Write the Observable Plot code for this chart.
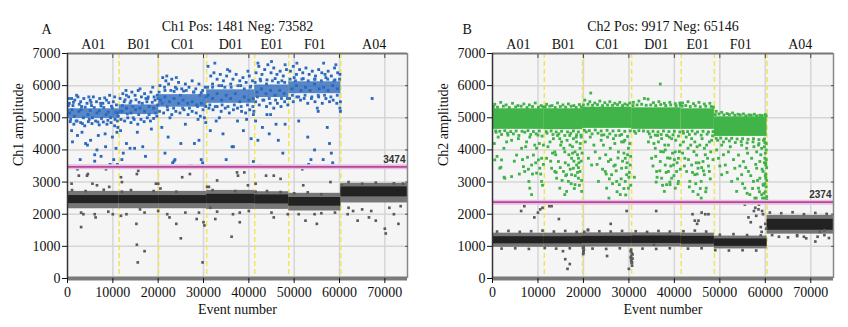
<!DOCTYPE html>
<html><head><meta charset="utf-8">
<script src="https://cdn.jsdelivr.net/npm/d3@7"></script>
<script src="https://cdn.jsdelivr.net/npm/@observablehq/plot@0.6"></script>
<style>
body{margin:0;background:#fff;}
#wrap{display:flex;width:848px;height:327px;}
</style></head><body><div id="wrap"></div>
<script>
// ---- shared
const wells = ["A01","B01","C01","D01","E01","F01","A04"];
const xTicks = [0,10000,20000,30000,40000,50000,60000,70000];
const yTicks = [0,1000,2000,3000,4000,5000,6000,7000];

// ---- Panel A (Ch1) ; point lists are [event number in thousands, amplitude]
const titleA = "Ch1 Pos: 1481 Neg: 73582";
const thresholdA = 3474;
const boundsA = [0,11400,20100,30700,41300,48800,60300,75000];
const negCoreLoA = [2330,2330,2330,2330,2320,2250,2540];
const negCoreHiA = [2580,2580,2580,2620,2600,2520,2850];
const negFringeLoA = [2170,2170,2170,2150,2150,2100,2350];
const negFringeHiA = [2710,2710,2710,2740,2700,2650,2960];
const posCoreLoA = [4980,5100,5330,5450,5630,5750,null];
const posCoreHiA = [5280,5400,5720,5870,6020,6120,null];
const posPointsA = [
 [0.4,5450],[0.9,5600],[1.6,5550],[2.3,5650],[2.9,5500],[3.6,5600],[4.3,5450],[5.0,5550],[5.7,5650],[6.4,5500],[7.1,5600],[7.8,5450],[8.6,5550],[9.3,5700],[10.1,5500],[10.8,5400],[1.2,5380],[3.1,5350],[5.3,5380],[7.4,5370],[9.7,5360],
 [0.6,4880],[1.4,4800],[2.1,4900],[2.9,4850],[3.8,4750],[4.6,4880],[5.4,4820],[6.2,4900],[7.0,4780],[7.9,4870],[8.7,4800],[9.6,4850],[10.4,4750],[11.1,4700],
 [0.9,4600],[2.2,4450],[3.2,4550],[4.4,4150],[5.1,4300],[6.8,4450],[8.3,4500],[9.9,4400],[10.9,4550],[1.1,4250],[4.0,4200],[6.0,3850],[7.4,3800],[8.4,4100],[9.4,3550],[10.2,3700],[11.0,3550],[10.7,4050],[2.8,3700],[6.5,4000],
 [0.5,5150],[1.5,5050],[2.5,5200],[3.5,5000],[4.5,5100],[5.5,5000],[6.5,5150],[7.5,4980],[8.5,5100],[9.5,5000],[10.5,4950],[11.2,5050],[1,5250],[3,5250],[5,5230],[7,5220],[9,5180],[11,5150],
 [11.6,5600],[12.2,5750],[12.9,5850],[13.5,5650],[14.2,5800],[14.9,5700],[15.6,5850],[16.3,5650],[17.0,5750],[17.7,5600],[18.4,5800],[19.1,5650],[19.8,5700],[12.5,5500],[14.0,5520],[15.8,5480],[17.5,5500],[19.3,5550],
 [11.8,4950],[12.6,4900],[13.3,5000],[14.0,4850],[14.7,4950],[15.5,4800],[16.2,4950],[16.9,4880],[17.6,5000],[18.3,4900],[19.0,4980],[19.7,5050],
 [11.7,4600],[12.3,3900],[13.0,4200],[14.8,4050],[15.4,4550],[16.6,4100],[17.2,3800],[18.5,4650],[12.0,3700],[13.8,4050],
 [12,5200],[13,5300],[14,5150],[15,5250],[16,5300],[17,5200],[18,5350],[19,5300],[19.9,5400],
 [20.4,6000],[21.0,6250],[21.7,6150],[22.3,6050],[23.0,6200],[23.8,5950],[24.5,6100],[25.2,5900],[26.0,6050],[26.8,5950],[27.5,6150],[28.3,5900],[29.0,6050],[29.8,5850],[30.4,5950],[21.5,5850],[23.5,5820],[25.6,5830],[27.8,5800],[29.5,5780],
 [20.3,5200],[21.2,5150],[22.1,5250],[23.0,5100],[23.9,5200],[24.8,5150],[25.7,5250],[26.6,5100],[27.5,5200],[28.4,5150],[29.3,5050],[30.2,5000],
 [20.8,4700],[22.2,4400],[23.2,3600],[23.7,3700],[25.0,4200],[26.0,4800],[27.3,3500],[28.0,4200],[29.0,4300],[29.5,3700],[30.5,4850],[21.5,3900],
 [20.5,5550],[21.5,5650],[22.5,5500],[23.5,5600],[24.5,5450],[25.5,5550],[26.5,5450],[27.5,5500],[28.5,5400],[29.5,5450],[30.5,5350],
 [31.0,6600],[31.6,6300],[32.3,6400],[33.0,6200],[33.7,6350],[34.4,6150],[35.1,6300],[35.8,6450],[36.5,6200],[37.2,6350],[38.0,6150],[38.7,6250],[39.4,6100],[40.1,6300],[40.8,6150],[32.0,6050],[34.0,6000],[36.0,6050],[38.2,6000],[40.4,5980],
 [31.2,5300],[32.1,5250],[33.0,5350],[33.9,5200],[34.8,5300],[35.7,5150],[36.6,5250],[37.5,5300],[38.4,5200],[39.3,5150],[40.2,5250],[41.0,5100],
 [31.5,4600],[32.8,4900],[34.3,4500],[35.0,3700],[36.3,4100],[36.6,4100],[37.5,4900],[38.8,4600],[40.5,4350],[33.5,5000],[39.5,4950],
 [31,5700],[32,5600],[33,5750],[34,5550],[35,5700],[36,5600],[37,5750],[38,5500],[39,5650],[40,5550],[41,5600],
 [41.6,6400],[42.2,6600],[42.9,6350],[43.5,6500],[44.2,6650],[44.9,6400],[45.5,6550],[46.2,6350],[46.9,6450],[47.6,6300],[48.3,6500],[42.5,6200],[44.0,6180],[45.8,6220],[47.3,6150],
 [41.5,5500],[42.3,5400],[43.1,5550],[43.9,5350],[44.7,5450],[45.5,5300],[46.3,5450],[47.1,5350],[47.9,5500],[48.6,5400],
 [41.5,4900],[42.0,4300],[42.5,3500],[43.0,4700],[44.0,5100],[44.5,4500],[46.0,4800],[46.5,4300],[47.5,3900],[48.0,4800],[41.0,3640],
 [41.8,5800],[42.8,5900],[43.8,5750],[44.8,5850],[45.8,5700],[46.8,5850],[47.8,5750],
 [49.2,6450],[49.8,6600],[50.5,6350],[51.2,6500],[51.9,6400],[52.6,6550],[53.3,6350],[54.0,6450],[54.7,6300],[55.4,6500],[56.1,6400],[56.8,6350],[57.5,6450],[58.2,6300],[58.9,6550],[59.6,6400],[60.1,6350],[50,6250],[52,6220],[54.5,6200],[57,6250],[59,6180],
 [49.0,5600],[49.8,5500],[50.6,5650],[51.4,5550],[52.2,5600],[53.0,5450],[53.8,5600],[54.6,5500],[55.4,5650],[56.2,5450],[57.0,5600],[57.8,5500],[58.6,5550],[59.4,5450],[60.2,5500],
 [51.0,4900],[53.0,4400],[54.5,4000],[55.3,5200],[56.4,3700],[57.3,4700],[57.8,4200],[58.2,3900],[58.5,3600],[53.7,3700],[60.2,5200],
 [49.5,5900],[50.5,6000],[51.5,5850],[52.5,5950],[53.5,5850],[54.5,6050],[55.5,5900],[56.5,5950],[57.5,5850],[58.5,6000],[59.5,5900],
 [6,3650],[23.5,3650],[27,3500],[29.8,3600],[52.5,3480],[53.2,3550],[58.1,3450],[67.2,5600]
];
const posPointsA2 = [
 [0.2,5380],[0.7,4950],[1.3,5480],[1.9,4900],[2.6,5420],[3.3,4820],[3.9,5330],[4.8,4950],[5.2,5480],[5.9,5320],[6.7,4870],[7.3,5450],[8.0,5320],[8.9,4920],[9.1,5470],[9.9,5300],[10.6,5180],[11.0,4900],[0.3,5600],[2.0,5700],[4.7,5650],[8.2,5620],[10.4,5650],
 [11.5,5200],[12.1,5380],[12.7,5560],[13.2,5120],[13.8,5460],[14.4,5350],[15.1,5560],[15.7,5100],[16.5,5450],[17.3,5600],[18.0,5100],[18.7,5480],[19.4,5150],[19.9,5600],[13.0,5700],[16.0,5900],[18.8,5950],[14.5,5000],[17.8,5650],
 [20.2,5800],[20.9,5450],[21.4,5950],[22.0,5350],[22.8,5850],[23.4,5300],[24.1,5900],[24.9,5700],[25.4,5300],[26.2,5850],[26.9,5300],[27.9,5800],[28.7,5350],[29.2,5700],[29.9,5250],[30.6,5650],[21.9,6300],[24.0,6250],[22.6,5000],[28.8,4950],
 [30.9,5950],[31.4,5400],[32.0,5950],[32.6,5350],[33.4,6000],[34.1,5400],[34.7,5950],[35.4,5350],[36.1,5950],[36.8,5400],[37.6,6000],[38.3,5350],[39.0,5900],[39.7,5400],[40.3,5950],[40.9,5350],[32.5,6700],[35.3,6500],[39.8,6450],[41.1,5200],
 [41.4,6100],[41.9,5650],[42.6,6150],[43.3,5550],[43.9,6050],[44.5,5600],[45.2,6150],[45.9,5550],[46.5,6100],[47.2,5600],[47.9,6100],[48.5,5600],[42.0,6700],[45.0,6750],[48.0,6650],[44.8,5100],
 [49.1,6200],[49.6,5700],[50.3,6150],[51.0,5650],[51.7,6200],[52.4,5700],[53.1,6150],[53.9,5650],[54.6,6200],[55.3,5700],[56.0,6150],[56.7,5700],[57.4,6200],[58.1,5650],[58.8,6150],[59.5,5700],[60.0,6200],[50.6,6700],[56.5,6700],[59.2,6650],[60.1,5300],[55.1,5300]
];
const negPointsA = [
 [0.9,2950],[2.5,3200],[2.2,3400],[4.5,3250],[4.3,3200],[5.5,2950],[6.5,2900],[3.5,2000],[3,1600],[6.2,1900],[8.5,3400],[9.2,2850],[10,2000],
 [11.8,3150],[12,3000],[15.3,3250],[15.6,3350],[15.2,1700],[15.3,1050],[15.5,500],[17,850],[16,2150],[19.5,2950],[20,2950],[22.5,1900],[24,1700],
 [25,1250],[25.3,3150],[27,3250],[28.5,1850],[29.8,500],[30,1750],[30.2,1650],[31.5,2200],[32.6,1850],[33,3050],[31.2,2850],[36.5,2000],[36.2,1300],
 [37.4,3300],[37.6,3200],[38,1750],[39,3300],[39.8,2900],[41.5,2950],[43.8,3200],[45.5,3200],[45.5,1900],[47,3100],[51.8,3400],[52,2900],[52.5,1800],
 [54.5,2000],[55,1700],[57.4,3450],[58,3000],[61.8,2000],[64,1800],[66.5,1900],[68,1800],[70,1550],[70.2,1400],[73,1700],[72,2000],[63,2100],
 [1,2750],[4,2720],[8,2760],[12,2700],[14,2750],[19,2720],[20.5,2800],[24,2700],[30.8,2850],[32,2750],[37,2720],[41.5,2700],[44,2720],[47,2690],
 [50,2650],[53,2680],[56,2620],[60.5,2900],[62,3000],[65,2950],[68,2980],[72,2960],[74,2950],
 [3,2050],[6,2000],[9,2080],[11.8,1950],[13,2000],[17,2050],[20,2100],[22,2000],[26,2050],[29,2050],[33,2080],[38,2050],[40,2100],[45,2050],
 [48.6,2000],[51,2000],[56,2030],[59,2050],[62,2200],[65,2150],[67,2100],[71,2200],[73.5,2250]
];

// ---- Panel B (Ch2)
const titleB = "Ch2 Pos: 9917 Neg: 65146";
const thresholdB = 2374;
const boundsB = [0,11400,19800,30600,41500,48800,60400,75000];
const negCoreLoB = [1080,1080,1090,1090,1070,1000,1500];
const negCoreHiB = [1300,1300,1310,1320,1310,1230,1840];
const negFringeLoB = [970,970,980,980,970,920,1380];
const negFringeHiB = [1410,1410,1420,1420,1410,1320,1960];
const posCoreLoB = [4640,4630,4670,4640,4640,4420,null];
const posCoreHiB = [5280,5280,5330,5310,5280,5030,null];
const posPointsB = [
 [0.5,5420],[1.8,5480],[3,5400],[4.4,5450],[5.6,5380],[6.9,5430],[8.1,5400],[9.4,5460],[10.7,5380],[0.8,4550],[2,4480],[3.3,4520],[4.6,4500],[5.8,4450],[7.1,4550],[8.4,4480],[9.6,4500],[10.9,4430],
 [0.5,3690],[2,3690],[1.6,3430],[2.7,3120],[4.2,3170],[6.8,3480],[7.1,3330],[8,3020],[8.2,2810],[8.6,2610],[9,3840],[9.3,4150],[9.7,4050],[10.1,3690],[10.4,3430],[10.8,3020],
 [6.4,4050],[5.7,4350],[4.2,4300],[3.4,4460],[7.5,4250],[8.2,4400],[8.6,3530],[9.7,3280],[10.8,3740],[11.2,4150],[3.1,4250],[1.25,4400],[5.3,3840],[10,4460],[1.85,3460],[2.55,3150],[7.7,3770],
 [11.9,5420],[13.1,5380],[14.3,5460],[15.5,5400],[16.7,5430],[17.9,5380],[19.1,5410],[12,4520],[13.3,4480],[14.6,4500],[15.9,4450],[17.2,4520],[18.5,4470],[19.5,4400],
 [11.9,3740],[12.65,4250],[13,3430],[13.7,3940],[14.1,3120],[14.5,3640],[14.8,2810],[15.2,4250],[15.6,3330],[15.9,3940],[16.3,2710],[16.7,3530],[16.7,3020],[17.05,4150],
 [17.4,3740],[17.4,3230],[17.8,3430],[18.15,3940],[18.15,2920],[18.5,4250],[18.5,3530],[18.9,3120],[18.9,3740],[19.25,4050],[19.25,3330],[19.45,4460],[19.6,2710],
 [16.3,3230],[17.8,4350],[14.8,4350],[13.7,3330],[15.9,2610],[19,3600],[18.7,3300],[17.6,3900],
 [20.3,5550],[21.4,5500],[22.5,5460],[23.6,5520],[24.7,5470],[25.8,5500],[26.9,5450],[28,5480],[29.1,5430],[30.2,5460],[21.6,5770],
 [20.6,4560],[21.9,4500],[23.2,4520],[24.5,4470],[25.8,4500],[27.1,4450],[28.4,4480],[29.7,4420],
 [20.4,4250],[21.1,3740],[21.8,3530],[22.6,3940],[23.3,3020],[23.6,3740],[24.4,4150],[24.8,3330],[25.1,2810],[25.5,3640],[25.9,4050],[26.2,3230],[26.6,4350],
 [27,3530],[27.3,3020],[27.7,3940],[28.1,2610],[28.4,3430],[28.8,4250],[29.2,3740],[29.2,3020],[29.5,3230],[29.9,4050],[29.9,2810],[30.3,3530],[25.6,2500],
 [27.9,2920],[24,4460],[28.4,4250],[30.1,3300],[29.6,3600],[28.9,3900],
 [31,5480],[32.2,5520],[33.4,5600],[34.2,5580],[35.4,5470],[36.6,5500],[37.8,5450],[39,5480],[40.2,5440],[41.2,5460],[36.9,6050],
 [31.5,4520],[34.5,4500],[35.8,4460],[37.1,4480],[38.4,4450],[39.7,4470],[40.9,4430],
 [34.3,4250],[35,3740],[35.8,4050],[36.1,3330],[36.5,4250],[36.9,3640],[37.2,3120],[37.6,3940],[38,3530],[38.3,2920],[38.7,4150],[38.7,3330],[39.05,3740],
 [39.4,3120],[39.4,4350],[39.8,3530],[40.2,3940],[40.2,2810],[40.5,3330],[40.9,3740],[40.9,3020],[41.3,4150],[39.05,2920],[37.8,2710],[37.2,4350],[38.3,4460],[31.2,3150],[36.2,3150],
 [41.8,5460],[43,5500],[44.2,5440],[45.4,5480],[46.6,5430],[47.8,5450],[42,4520],[43.3,4480],[44.6,4500],[45.9,4460],[47.2,4490],[48.4,4440],
 [42,4250],[42.3,3740],[42.7,3330],[43,4050],[43.4,3020],[43.8,3530],[44.1,2710],[44.5,4250],[44.5,3230],[44.9,3840],[45.2,3430],[45.2,2610],[45.6,4150],
 [45.9,3020],[46.3,3640],[46.6,4050],[46.6,3230],[47,2810],[47.3,3740],[47.7,4250],[47.7,3330],[48,3940],[43.8,4350],[45.9,2500],[46,3450],[44.8,3600],
 [49.2,5200],[50.4,5170],[51.6,5130],[52.8,5150],[54,5110],[55.2,5120],[56.4,5090],[57.6,5110],[58.8,5080],[60,5100],
 [49.5,4300],[50.8,4250],[52.1,4280],[53.4,4230],[54.7,4260],[56,4220],[57.3,4250],[58.6,4200],[59.9,4230],
 [49.7,3740],[50.4,3230],[51.2,3530],[51.9,3940],[52.6,3020],[53.3,3430],[53.7,2710],[54.1,3840],[54.8,3230],[55.2,3640],[55.5,2810],[55.9,4050],[56.3,3330],
 [56.6,2610],[57,3740],[57.4,3020],[57.7,2500],[58.1,3940],[58.1,3430],[58.5,2810],[58.8,3640],[58.8,3120],[59.2,2610],[59.2,4050],[59.5,3330],[59.5,2920],
 [59.9,3740],[59.9,2500],[60.1,3120],[60.1,3530],[58.5,4150],[54.8,4150],[50.4,4150],
 [59.6,4300],[59.8,4100],[60,3900],[60.2,3700],[60.3,3450],[60.1,3250],[60.3,3050],[60.2,2850],[60,2700],[60.3,2550],[59.7,2650],[59.9,2950],[60.2,4000],[60.1,3600]
];
const posPointsB2 = [
 [0.4,4200],[1.0,3800],[2.5,4050],[4.8,3650],[5.9,3250],[6.6,3700],[7.3,4100],[7.9,3400],[8.8,3250],[9.5,3600],[10.3,4200],[10.6,3250],[11.0,2900],[11.2,3550],
 [12.2,4100],[12.8,3650],[13.4,4350],[13.9,3850],[14.3,4450],[14.9,3450],[15.3,3050],[15.7,4050],[16.0,3600],[16.4,4300],[16.8,3850],[17.1,3400],[17.3,2950],[17.6,4100],[17.9,3650],
 [18.2,3200],[18.4,4400],[18.7,3850],[18.9,3450],[19.1,2900],[19.3,4200],[19.5,3650],[19.6,3050],[19.7,3900],[17.0,4450],[16.1,3200],[15.0,4150],[14.0,3300],[13.2,3900],[18.0,2800],
 [21.5,4400],[22.3,4150],[23.0,3550],[23.9,4300],[24.2,3400],[24.9,3850],[25.3,4400],[25.7,3100],[26.0,3700],[26.4,2950],[26.9,4200],[27.2,3350],[27.6,3750],[28.0,4450],
 [28.3,3100],[28.6,3650],[28.9,2800],[29.1,4300],[29.4,3450],[29.7,3850],[30.0,3150],[30.2,4200],[30.4,2900],[30.4,3800],[26.7,3500],[25.0,3250],[27.4,2700],[29.3,2600],
 [34.8,4400],[35.3,3500],[35.9,3800],[36.3,4450],[36.8,3350],[37.0,3950],[37.4,2900],[37.9,4150],[38.2,3300],[38.5,3750],[38.9,4400],[39.2,3500],[39.6,3900],[39.9,3200],
 [40.3,4300],[40.6,3600],[40.8,2950],[41.1,3950],[41.3,3400],[38.0,4000],[39.0,3000],[40.0,3700],[36.0,3000],[35.5,4200],
 [41.8,3900],[42.2,3500],[42.6,4400],[43.1,3700],[43.6,4150],[44.0,3300],[44.3,3950],[44.7,2950],[45.0,4100],[45.4,3600],[45.7,2800],[46.1,4350],[46.4,3350],[46.8,3850],
 [47.1,4150],[47.5,3500],[47.9,3100],[48.2,4300],[48.5,3700],[45.0,3250],[43.3,2850],[46.9,2700],
 [49.3,4000],[50.0,3500],[50.8,3850],[51.6,3300],[52.3,4100],[53.0,3700],[53.9,3100],[54.4,3500],[55.0,2950],[55.7,3450],[56.1,3900],[56.8,3200],[57.2,2800],[57.5,4100],
 [57.9,3550],[58.3,3050],[58.7,2700],[59.0,3850],[59.3,3400],[59.6,2900],[59.8,3600],[60.0,3200],[60.2,4200],[60.3,2450],[58.0,2500],[59.4,2500],[56.0,2650],
 [0.2,5350],[1.1,5330],[2.4,5360],[3.7,5320],[5.1,5340],[6.3,5360],[7.6,5320],[8.8,5350],[10.1,5330],[11.1,5340],[0.7,4590],[1.6,4580],[2.7,4600],[4.0,4570],[5.2,4590],[6.5,4580],[7.8,4600],[9.0,4570],[10.3,4590],
 [11.6,5340],[12.6,5360],[13.8,5320],[14.9,5350],[16.1,5330],[17.3,5360],[18.4,5320],[19.5,5340],[11.8,4570],[12.9,4590],[14.0,4560],[15.2,4580],[16.5,4560],[17.8,4590],[18.9,4560],
 [20.0,5400],[21.0,5420],[22.0,5390],[23.1,5410],[24.2,5380],[25.3,5400],[26.4,5390],[27.5,5410],[28.6,5380],[29.7,5400],[20.2,4610],[21.3,4600],[22.6,4620],[23.9,4590],[25.2,4610],[26.5,4590],[27.8,4600],[29.1,4580],[30.3,4590],
 [30.9,5380],[31.8,5400],[32.8,5420],[33.8,5390],[34.8,5400],[35.9,5380],[37.0,5410],[38.1,5380],[39.2,5400],[40.4,5370],[41.3,5390],[31.2,4580],[32.2,4600],[33.2,4590],[34.2,4570],[35.3,4580],[36.4,4560],[37.6,4590],[38.8,4570],[40.0,4580],[41.2,4560],
 [41.7,5360],[42.5,5380],[43.5,5350],[44.6,5370],[45.7,5340],[46.9,5360],[48.1,5350],[48.6,5330],[41.9,4580],[42.9,4570],[43.9,4590],[45.1,4560],[46.3,4580],[47.5,4560],[48.5,4570],
 [49.0,5100],[49.8,5120],[50.9,5090],[52.1,5100],[53.3,5080],[54.5,5090],[55.7,5060],[56.9,5080],[58.1,5060],[59.3,5070],[60.2,5060],[49.2,4360],[50.2,4370],[51.4,4350],[52.6,4360],[53.8,4340],[55.0,4350],[56.2,4330],[57.4,4350],[58.6,4320],[59.8,4340]
];
const negPointsB = [
 [6.3,2100],[7,2250],[9.2,1900],[10,2050],[10.5,2150],[11,2200],[12.5,2250],[13,2250],[14.6,1850],[15.5,850],[16,600],[16.5,300],[17,450],[20.2,1450],
 [21,1500],[26,1700],[25.2,700],[29.5,2100],[30,300],[35.5,1050],[36,2100],[44,2000],[44.5,1800],[45,1700],[45.3,1800],[46,2050],[46.8,2000],
 [47.5,2000],[55.5,2300],[56.3,1900],[56.8,1750],[57.5,2100],[58,1950],[58.5,2150],[59,1600],[59.2,1450],[59.5,2000],[60,1700],[60.2,1550],
 [57,2350],[57.8,2200],[58.6,2300],[59.3,2100],[58.2,2400],[67,1350],[68.5,1300],[71,1150],[72,1450],[73,1500],
 [30.4,850],[30.5,700],[30.6,600],[30.7,500],[30.5,550],[30.8,750],[30.6,800],[30.4,650],[30.7,400],[30.5,900],[30.8,620],[30.6,480],
 [19.9,950],[20,850],[20.1,900],[20,800],[19.95,760],[20.05,980],
 [1,1460],[3.5,1480],[6,1450],[8.5,1470],[11,1490],[13.5,1460],[16,1480],[18.5,1450],[21,1520],[23.5,1470],[26,1460],[28.5,1480],[31.5,1470],[34,1450],
 [36.5,1480],[39,1460],[42,1470],[44.5,1490],[47,1460],[50,1360],[53,1380],[56,1350],[59,1340],[61,2050],[63.5,2030],[66,2060],[68.5,2000],[71,2040],[73.5,2010],
 [2,930],[5,940],[8,920],[11.5,950],[14,930],[17,940],[22,930],[25,920],[28,940],[33,930],[36,920],[39,940],[43,930],[46,940],[49,880],[52,870],[55,880],
 [58,870],[61.5,1350],[63,1300],[65,1280],[67,1320],[69,1250],[71.5,1300],[73,1350],[74,1260]
];

const serif = "'Liberation Serif','Times New Roman',serif";
function panel(o){
  const bands = wells.map((w,i)=>({w, x1:o.bounds[i], x2:o.bounds[i+1], c:(o.bounds[i]+o.bounds[i+1])/2}));
  const rows = (lo,hi) => bands.map((b,i)=>({...b, y1:lo[i], y2:hi[i]})).filter(d=>d.y1!=null);
  const pts = arr => arr.map(([k,v])=>({x:k*1000,y:v}));
  const fmt = d3.format("d");
  const T = {fontFamily:serif, fontSize:14, fill:"#111", lineAnchor:"middle"};
  return Plot.plot({
    width:424, height:327, marginLeft:o.ml, marginRight:o.mr, marginTop:53, marginBottom:49,
    x:{domain:[0,75000]}, y:{domain:[0,7000]},
    style:{fontFamily:serif, fontSize:"14px", background:"transparent", color:"#111", overflow:"visible"},
    marks:[
      Plot.frame({fill:"#f5f5f5", stroke:null}),
      Plot.gridX(xTicks.slice(1), {stroke:"#d6d6d6", strokeOpacity:1, strokeWidth:1.5}),
      Plot.gridY(yTicks.slice(1,-1), {stroke:"#d6d6d6", strokeOpacity:1, strokeWidth:1.5}),
      Plot.ruleX(o.bounds.slice(1,-1), {stroke:"#f1e55c", strokeWidth:1.5, strokeDasharray:"5,3"}),
      Plot.rect(rows(o.nfLo,o.nfHi), {x1:"x1",x2:"x2",y1:"y1",y2:"y2", fill:"#767676"}),
      Plot.rect(rows(o.ncLo,o.ncHi), {x1:"x1",x2:"x2",y1:"y1",y2:"y2", fill:"#222"}),
      Plot.dot(pts(o.negPts), {x:"x", y:"y", symbol:"square", r:1.5, fill:"#5a5a5a"}),
      Plot.rect(rows(o.pcLo,o.pcHi), {x1:"x1",x2:"x2",y1:"y1",y2:"y2", fill:o.color, fillOpacity:o.coreOp}),
      Plot.dot(pts(o.posPts), {x:"x", y:"y", symbol:"square", r:1.6, fill:o.color}),
      Plot.dot(pts(o.posPts2), {x:"x", y:"y", symbol:"square", r:1.6, fill:o.color2}),
      Plot.ruleY([o.thr], {stroke:"#e9bfe0", strokeWidth:5}),
      Plot.ruleY([o.thr], {stroke:"#b4489e", strokeWidth:1.8}),
      Plot.text([o.thr], {x:()=>75000, y:d=>d, text:d=>String(d), textAnchor:"end", lineAnchor:"middle", dx:-2, dy:-7, fontSize:10, fontWeight:"bold", fontFamily:"'Liberation Sans',Arial,sans-serif", fill:"#333"}),
      Plot.ruleY([0], {stroke:"#7a7a7a", strokeWidth:4}),
      Plot.ruleY([7000], {stroke:"#777", strokeWidth:2}),
      Plot.ruleX([75000], {stroke:"#888", strokeWidth:1.5}),
      Plot.ruleX([0], {stroke:"#333", strokeWidth:1.5}),
      Plot.axisX({ticks:xTicks, tickSize:5, tickPadding:4, tickFormat:fmt, label:null, fontSize:14, fontFamily:serif}),
      Plot.axisY({ticks:yTicks, tickSize:5, tickPadding:2, tickFormat:fmt, label:null, fontSize:14, fontFamily:serif}),
      Plot.axisX({anchor:"top", ticks:xTicks.slice(1), tickSize:-4, tickFormat:()=>"", label:null, stroke:"#444"}),
      Plot.axisY({anchor:"right", ticks:yTicks.slice(1,-1), tickSize:-3, tickFormat:()=>"", label:null, stroke:"#555"}),
      Plot.text(bands, {...T, x:"c", text:"w", frameAnchor:"top", dy:-9}),
      Plot.text([o.title], {...T, frameAnchor:"top", dy:-27}),
      Plot.text([o.letter], {...T, frameAnchor:"top-left", dx:o.letterDx, dy:-24}),
      Plot.text([o.ylabel], {...T, frameAnchor:"left", dx:-49, rotate:-90}),
      Plot.text(["Event number"], {...T, frameAnchor:"bottom", dy:31})
    ]
  });
}
const wrap = document.getElementById("wrap");
wrap.append(panel({ml:67, mr:17, bounds:boundsA, ncLo:negCoreLoA, ncHi:negCoreHiA, nfLo:negFringeLoA, nfHi:negFringeHiA,
  pcLo:posCoreLoA, pcHi:posCoreHiA, posPts:posPointsA, posPts2:posPointsA2, negPts:negPointsA, color:"#2a68bd", color2:"#2f6fc4", coreOp:0.78,
  thr:thresholdA, title:titleA, letter:"A", letterDx:-26, ylabel:"Ch1 amplitude"}));
wrap.append(panel({ml:68, mr:15, bounds:boundsB, ncLo:negCoreLoB, ncHi:negCoreHiB, nfLo:negFringeLoB, nfHi:negFringeHiB,
  pcLo:posCoreLoB, pcHi:posCoreHiB, posPts:posPointsB, posPts2:posPointsB2, negPts:negPointsB, color:"#41b449", color2:"#3fb247", coreOp:1,
  thr:thresholdB, title:titleB, letter:"B", letterDx:-30, ylabel:"Ch2 amplitude"}));
</script></body></html>
